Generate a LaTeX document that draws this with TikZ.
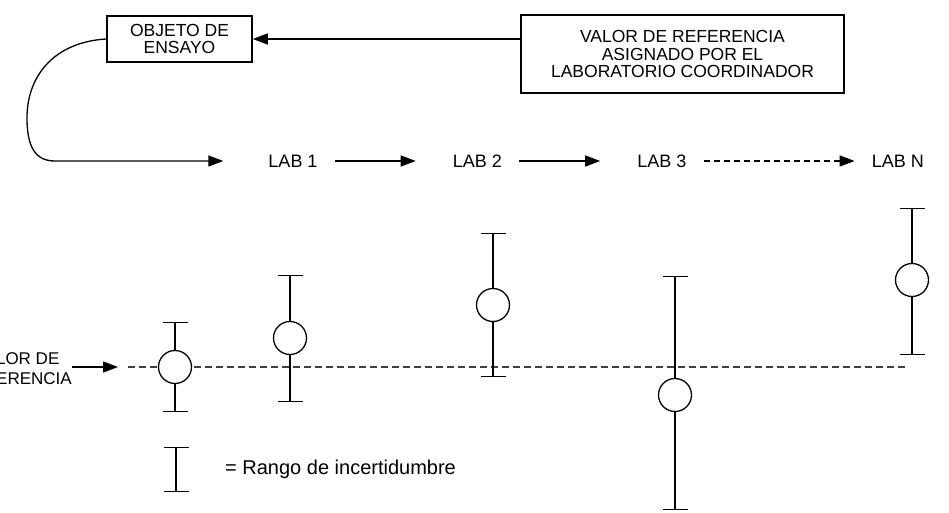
\documentclass[tikz,border=0pt]{standalone}
\usepackage{fontspec}
\setmainfont{Liberation Sans}
\usepackage{tikz}
\usetikzlibrary{arrows.meta, positioning}
\tikzset{
  % Cajas con texto
  caja/.style={
    rectangle, draw=black, fill=white, line width=1.5pt,
    align=center, inner sep=0pt, font=\fontsize{17.5}{17.5}\selectfont,
  },
  % Etiquetas de laboratorios
  lab/.style={inner sep=0pt, font=\fontsize{18}{18}\selectfont},
  % Flechas
  flecha/.style={-{Triangle[length=15pt,width=11pt]}, line width=1.3pt},
  flechadash/.style={flecha, dash pattern=on 6pt off 4pt},
  % Linea del valor de referencia
  linearef/.style={line width=1.3pt, dash pattern=on 7pt off 4pt, black!75},
  % Barras de incertidumbre
  barra/.style={{Bar[width=25pt]}-{Bar[width=25pt]}, line width=1.3pt},
  punto/.style={
    circle, draw=black, fill=white, line width=1.3pt,
    minimum size=33pt, inner sep=0pt,
  },
}

\begin{document}
\begin{tikzpicture}[x=1pt, y=-1pt]
  \useasboundingbox (0,0) rectangle (949,513);
  \clip (0,0) rectangle (949,513);

  % Cajas superiores
  \node[caja, minimum width=145pt, minimum height=46pt] (objeto) at (179.5,39) {
    OBJETO DE\\ENSAYO
  };
  \node[caja, minimum width=323pt, minimum height=78pt] (valorref) at (682.5,54) {
    VALOR DE REFERENCIA\\ASIGNADO POR EL\\LABORATORIO COORDINADOR
  };

  % Fila de laboratorios
  \node[lab] (lab1) at (293,161) {LAB 1};
  \node[lab, right=135pt of lab1] (lab2) {LAB 2};
  \node[lab, right=135pt of lab2] (lab3) {LAB 3};
  \node[lab, right=185pt of lab3] (labn) {LAB N};

  % Flechas
  \draw[flecha] (valorref.west |- objeto.east) -- (objeto.east);
  \draw[flecha] (objeto.west) .. controls (55,42) and (27,75) .. (27,118)
    .. controls (27,148) and (36,161) .. (55,161) -- ([xshift=-45pt]lab1.west);
  \draw[flecha] ([xshift=17pt]lab1.east) -- ([xshift=-37pt]lab2.west);
  \draw[flecha] ([xshift=17pt]lab2.east) -- ([xshift=-37pt]lab3.west);
  \draw[flechadash] ([xshift=17pt]lab3.east) -- ([xshift=-17pt]labn.west);

  % Valor de referencia
  \coordinate (lineaA) at (128,367);
  \coordinate (lineaB) at (907,367);
  \draw[linearef] (lineaA) -- (lineaB);
  \node[align=center, inner sep=0pt, font=\fontsize{17}{20}\selectfont] (refizq) at (17,369) {
    VALOR DE\\REFERENCIA
  };
  \draw[flecha] (refizq.east |- lineaA) -- ([xshift=-10pt]lineaA);

  % Resultados con su incertidumbre
  \coordinate (sup1) at (175,322); \coordinate (inf1) at (175,412);
  \coordinate (sup2) at (290,275); \coordinate (inf2) at (290,402);
  \coordinate (sup3) at (493,233); \coordinate (inf3) at (493,377);
  \coordinate (sup4) at (675,276); \coordinate (inf4) at (675,510);
  \coordinate (sup5) at (912,208); \coordinate (inf5) at (912,355);
  \draw[barra] (sup1) -- (inf1);
  \draw[barra] (sup2) -- (inf2);
  \draw[barra] (sup3) -- (inf3);
  \draw[barra] (sup4) -- (inf4);
  \draw[barra] (sup5) -- (inf5);
  \node[punto] (res1) at (175,367) {};
  \node[punto] (res2) at (290,338) {};
  \node[punto] (res3) at (493,305) {};
  \node[punto] (res4) at (675,395) {};
  \node[punto] (res5) at (912,280) {};

  % Leyenda
  \coordinate (legsup) at (176,447);
  \coordinate (leginf) at (176,492);
  \draw[barra] (legsup) -- (leginf);
  \node[anchor=west, inner sep=0pt, font=\fontsize{20}{20}\selectfont] (leyenda) at (225,469) {
    = Rango de incertidumbre
  };
\end{tikzpicture}
\end{document}
